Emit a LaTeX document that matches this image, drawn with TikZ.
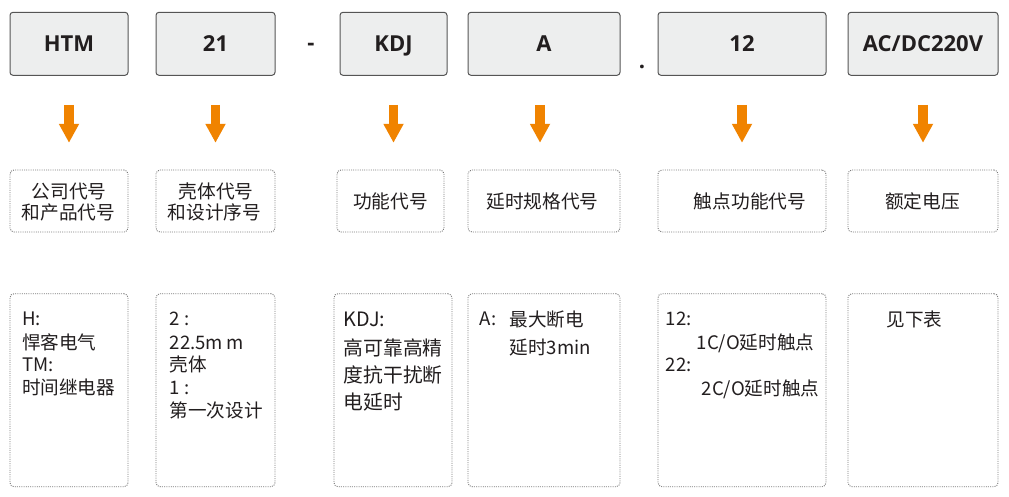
\documentclass[tikz,border=0pt]{standalone}
\usepackage{fontspec}
\newfontfamily\cjk{Noto Sans CJK SC}
\newfontfamily\labfont{Open Sans}
\usetikzlibrary{arrows.meta}
\definecolor{ink}{HTML}{221E1F}
\definecolor{boxfill}{HTML}{EDEEEE}
\definecolor{boxline}{HTML}{555555}
\definecolor{dotline}{HTML}{7A7A7A}
\definecolor{arrowor}{RGB}{240,131,0}
\begin{document}
\begin{tikzpicture}[x=1pt,y=-1pt,
  codebox/.style={draw=boxline, fill=boxfill, line width=1pt, rounded corners=3pt, inner sep=0pt,
    minimum height=63pt, text=ink, font=\labfont\bfseries\fontsize{22}{26}\selectfont,
    text height=15.7pt, text depth=0pt},
  midbox/.style={draw=dotline, line width=0.9pt, dash pattern=on 1pt off 1.2pt, rounded corners=4pt,
    inner sep=0pt, minimum height=62pt},
  lowbox/.style={draw=dotline, line width=0.9pt, dash pattern=on 1pt off 1.2pt, rounded corners=4pt,
    inner sep=0pt, minimum height=193pt},
  midlab/.style={anchor=base, inner sep=0pt, text=ink, font=\cjk\fontsize{18.7}{22}\selectfont},
  ln/.style={anchor=base west, inner sep=0pt, text=ink, font=\cjk\fontsize{18.6}{22}\selectfont},
  lnb/.style={anchor=base west, inner sep=0pt, text=ink, font=\cjk\fontsize{19.8}{24}\selectfont},
  sep/.style={inner sep=0pt, text=ink, font=\labfont\bfseries\fontsize{22}{26}\selectfont},
  oarrow/.style={draw=arrowor, line width=9.5pt, -{Triangle[width=19pt,length=19pt]}}]
\useasboundingbox[fill=white] (0,0) rectangle (1009,496);

% top code boxes
\node[codebox, minimum width=118pt] (t1) at (69,43.8) {HTM};
\node[codebox, minimum width=119pt] (t2) at (215.5,43.8) {21};
\node[codebox, minimum width=107pt] (t3) at (393.5,43.8) {KDJ};
\node[codebox, minimum width=152pt] (t4) at (544,43.8) {A};
\node[codebox, minimum width=168pt] (t5) at (742,43.8) {12};
\node[codebox, minimum width=150pt] (t6) at (923,43.8) {AC/DC220V};
\node[sep] (dash) at (311,47) {-};
\node[sep] (dot) at (642,67) {.};

% middle dotted boxes
\node[midbox, minimum width=118pt] (m1) at (69,201) {};
\node[midbox, minimum width=119pt] (m2) at (215.5,201) {};
\node[midbox, minimum width=107pt] (m3) at (390.5,201) {};
\node[midbox, minimum width=152pt] (m4) at (544,201) {};
\node[midbox, minimum width=168pt] (m5) at (742,201) {};
\node[midbox, minimum width=150pt] (m6) at (923,201) {};

% arrows
\draw[oarrow] ([yshift=-29pt]t1.south) -- ++(0,38);
\draw[oarrow] ([yshift=-29pt]t2.south) -- ++(0,38);
\draw[oarrow] ([yshift=-29pt]t3.south) -- ++(0,38);
\draw[oarrow] ([xshift=-4pt,yshift=-29pt]t4.south) -- ++(0,38);
\draw[oarrow] ([yshift=-29pt]t5.south) -- ++(0,38);
\draw[oarrow] ([yshift=-29pt]t6.south) -- ++(0,38);

% middle labels
\node[midlab] (m1a) at (69,198.7) {公司代号};
\node[midlab] (m1b) at (68.5,219.7) {和产品代号};
\node[midlab] (m2a) at (216,198.7) {壳体代号};
\node[midlab] (m2b) at (214.5,219.7) {和设计序号};
\node[midlab] (m3a) at (390.5,208.7) {功能代号};
\node[midlab] (m4a) at (542.5,208.7) {延时规格代号};
\node[midlab] (m5a) at (750,208.7) {触点功能代号};
\node[midlab] (m6a) at (922.5,208.7) {额定电压};

% bottom dotted boxes
\node[lowbox, minimum width=118pt] (b1) at (69,390.2) {};
\node[lowbox, minimum width=119pt] (b2) at (215.5,390.2) {};
\node[lowbox, minimum width=118pt] (b3) at (393,390.2) {};
\node[lowbox, minimum width=152pt] (b4) at (544,390.2) {};
\node[lowbox, minimum width=168pt] (b5) at (742,390.2) {};
\node[lowbox, minimum width=150pt] (b6) at (923,390.2) {};

% bottom texts
\node[ln] (b1a) at (22,325.7) {H:};
\node[ln] (b1b) at (22,349.7) {悍客电气};
\node[ln] (b1c) at (22,371.7) {TM:};
\node[ln] (b1d) at (22,394.7) {时间继电器};

\node[ln] (b2a) at (169.5,325.7) {2 :};
\node[ln] (b2b) at (169.5,349.7) {22.5m\,m};
\node[ln] (b2c) at (169.5,371.7) {壳体};
\node[ln] (b2d) at (169.5,394.7) {1 :};
\node[ln] (b2e) at (169.5,417.4) {第一次设计};

\node[lnb] (b3a) at (343.5,326) {KDJ:};
\node[lnb] (b3b) at (343.5,355) {高可靠高精};
\node[lnb] (b3c) at (343.5,382) {度抗干扰断};
\node[lnb] (b3d) at (343.5,409) {电延时};

\node[ln] (b4a) at (479.5,325.7) {A:};
\node[ln] (b4b) at (509.5,326.7) {最大断电};
\node[ln] (b4c) at (509.5,354.4) {延时3min};

\node[ln] (b5a) at (665.5,325.7) {12:};
\node[ln] (b5b) at (696.5,349.4) {1C/O延时触点};
\node[ln] (b5c) at (665.5,371.7) {22:};
\node[ln] (b5d) at (701.5,395) {2C/O延时触点};

\node[ln] (b6a) at (886.5,326.7) {见下表};
\end{tikzpicture}
\end{document}
